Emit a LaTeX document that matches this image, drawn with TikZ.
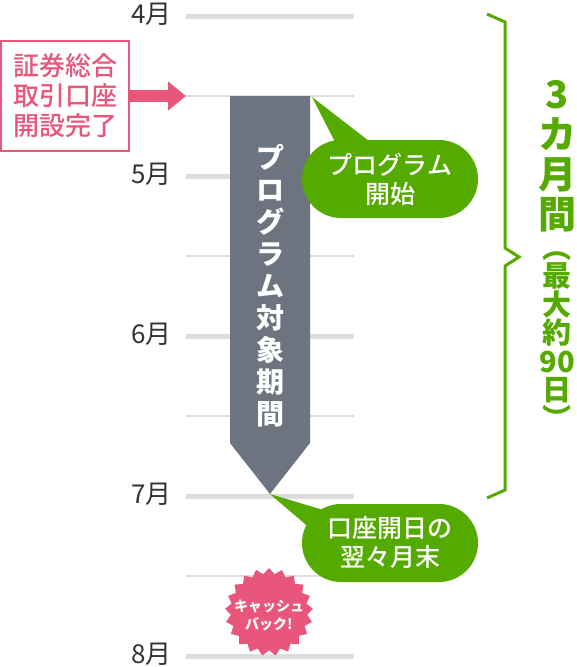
\documentclass[tikz,border=0pt]{standalone}
\usepackage{fontspec}
\setmainfont{Noto Sans CJK JP}
\newfontfamily\jpm{Noto Sans CJK JP Medium}
\usetikzlibrary{shapes.geometric,arrows.meta,calc}
\definecolor{gridc}{HTML}{DDDDDD}
\definecolor{barc}{HTML}{6D7480}
\definecolor{pinkc}{HTML}{E8567B}
\definecolor{greenc}{HTML}{55AA00}
\definecolor{monthc}{HTML}{333333}
\newcommand\smallsz{\fontsize{29}{30}\selectfont}
\tikzset{
  major/.style={draw=gridc, line width=5pt},
  minor/.style={draw=gridc, line width=2.5pt},
  monthlbl/.style={anchor=east, text=monthc, inner sep=0pt, font=\fontsize{26}{26}\selectfont},
  bubble/.style={fill=greenc, text=white, rounded corners=39pt, minimum width=176pt, minimum height=78pt, inner sep=0pt, align=center, font=\jpm\fontsize{25}{29}\selectfont},
  vtext/.style={inner sep=0pt, align=center},
}
\begin{document}
\begin{tikzpicture}[x=1pt,y=-1pt]
\useasboundingbox (0,0) rectangle (576,667);
% grid
\foreach \yy in {16,176,336,496,656} \draw[major] (186,\yy) -- (354,\yy);
\foreach \yy in {96,256,416,576} \draw[minor] (186,\yy) -- (354,\yy);
% month labels
\node[monthlbl] (m4) at (172,14) {4月};
\node[monthlbl] (m5) at (172,174) {5月};
\node[monthlbl] (m6) at (172,334) {6月};
\node[monthlbl] (m7) at (172,494) {7月};
\node[monthlbl] (m8) at (172,654) {8月};
% program bar
\fill[barc] (230,96) -- (310,96) -- (310,443) -- (270,494) -- (230,443) -- cycle;
\coordinate (barstart) at (312,97);
\coordinate (barend) at (270,494);
\node[vtext, text=white, font=\bfseries\fontsize{28}{32}\selectfont] (bartxt) at (270,286) {プ\\ロ\\グ\\ラ\\ム\\対\\象\\期\\間};
% pink box and arrow
\node[draw=pinkc, line width=2pt, text=pinkc, minimum width=128pt, minimum height=110pt, inner sep=0pt, align=center, font=\jpm\fontsize{26}{30}\selectfont] (box) at (65,96) {証券総合\\取引口座\\開設完了};
\coordinate (arrtip) at (186,96);
\draw[pinkc, line width=12pt, -{Triangle[length=18pt,width=28pt]}] (box.east) -- (arrtip);
% bubble 1
\node[bubble] (b1) at (390,179) {プログラム\\開始};
\fill[greenc] (barstart) -- ($(b1.north)+(-55,2)$) -- ($(b1.north)+(-20,2)$) -- cycle;
% bubble 2
\node[bubble] (b2) at (390,543) {口座開日の\\翌々月末};
\fill[greenc] (barend) -- (330,512) -- (312,530) -- cycle;
% starburst
\node[star, star points=21, star point ratio=1.15, fill=pinkc, minimum size=88pt, inner sep=0pt] (cb) at (269,612) {};
\node[vtext, text=white, font=\bfseries\fontsize{14}{18}\selectfont] (cbt) at (269,615) {キャッシュ\\バック!};
% brace
\draw[greenc, line width=3pt, line join=miter] (487,14) -- (505,22) -- (505,248) -- (519,257) -- (505,266) -- (505,490) -- (487,498);
\node[vtext, anchor=north, text=greenc, font=\bfseries\fontsize{38}{40}\selectfont] (period) at (557,80)
  {3\\カ\\月\\間\\[-10pt]\smallsz ︵\\[-11.5pt]\smallsz 最\\[-11.5pt]\smallsz 大\\[-11.5pt]\smallsz 約\\[-11.5pt]\smallsz 90\\[-11.5pt]\smallsz 日\\[-11.5pt]\smallsz ︶};
\end{tikzpicture}
\end{document}
